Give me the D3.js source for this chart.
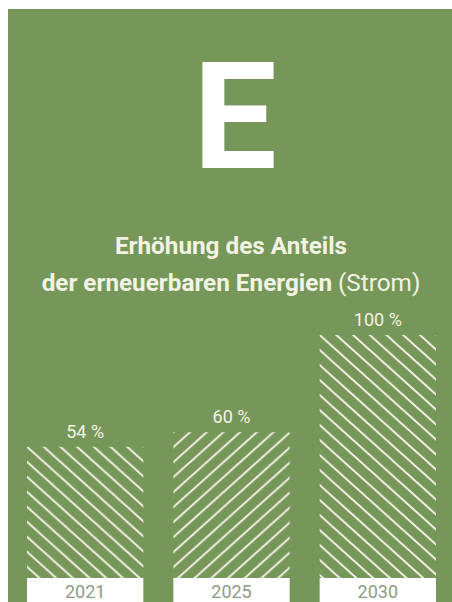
<!DOCTYPE html>
<html>
<head>
<meta charset="utf-8">
<script src="https://cdn.jsdelivr.net/npm/d3@7"></script>
<style>
  html, body { margin: 0; padding: 0; background: #ffffff; }
  svg { display: block; }
  text { font-family: Roboto, "Noto Sans", sans-serif; }
</style>
</head>
<body>
<svg id="chart" width="452" height="602"></svg>
<script>
// Share of renewable energies in electricity, by target year
const years = ["2021", "2025", "2030"];
const shares = [54, 60, 100];
const hatchDirections = ["down", "up", "down"];
const valueLabels = ["54 %", "60 %", "100 %"];
const titleLine1 = "Erhöhung des Anteils";
const titleLine2Bold = "der erneuerbaren Energien";
const titleLine2Light = " (Strom)";
const letter = "E";

const W = 452, H = 602;
const green = "#779659";
const cream = "#f1f4e2";

const svg = d3.select("#chart");

// panel
svg.append("rect")
  .attr("x", 8).attr("y", 9)
  .attr("width", W - 8).attr("height", H - 9)
  .attr("fill", green);

// big letter
svg.append("text")
  .attr("x", 235).attr("y", 168)
  .attr("text-anchor", "middle")
  .attr("font-size", 149)
  .attr("font-weight", 700)
  .attr("fill", "#ffffff")
  .text(letter);

// title
svg.append("text")
  .attr("x", 231).attr("y", 254)
  .attr("text-anchor", "middle")
  .attr("font-size", 24.3)
  .attr("font-weight", 700)
  .attr("fill", cream)
  .text(titleLine1);

const t2 = svg.append("text")
  .attr("x", 231).attr("y", 291)
  .attr("text-anchor", "middle")
  .attr("font-size", 24.3)
  .attr("fill", cream);
t2.append("tspan").attr("font-weight", 700).text(titleLine2Bold);
t2.append("tspan").attr("font-weight", 400).text(titleLine2Light);

// scales
const x = d3.scaleBand()
  .domain(years)
  .range([27, 436])
  .paddingInner(0.205)
  .paddingOuter(0);

const baseline = 578;
const y = d3.scaleLinear()
  .domain([0, 100])
  .range([baseline, 335]);

// diagonal hatch patterns, one per bar so the stripes start at the bar's corner
const defs = svg.append("defs");
const tw = 16.7, th = 15;
years.forEach((yr, i) => {
  const p = defs.append("pattern")
    .attr("id", "hatch" + i)
    .attr("patternUnits", "userSpaceOnUse")
    .attr("x", x(yr))
    .attr("y", y(shares[i]))
    .attr("width", tw)
    .attr("height", th);
  [-tw, 0, tw].forEach(dx => {
    const line = p.append("line")
      .attr("stroke", cream)
      .attr("stroke-width", 2);
    if (hatchDirections[i] === "down") {
      line.attr("x1", dx - tw).attr("y1", -th)
          .attr("x2", dx + 2 * tw).attr("y2", 2 * th);
    } else {
      line.attr("x1", dx - tw).attr("y1", 2 * th)
          .attr("x2", dx + 2 * tw).attr("y2", -th);
    }
  });
});

// bars
svg.selectAll("rect.bar")
  .data(years)
  .join("rect")
  .attr("class", "bar")
  .attr("x", d => x(d))
  .attr("y", (d, i) => y(shares[i]))
  .attr("width", x.bandwidth())
  .attr("height", (d, i) => baseline - y(shares[i]))
  .attr("fill", (d, i) => `url(#hatch${i})`);

// value labels
svg.selectAll("text.value")
  .data(years)
  .join("text")
  .attr("class", "value")
  .attr("x", d => x(d) + x.bandwidth() / 2)
  .attr("y", (d, i) => y(shares[i]) - 9)
  .attr("text-anchor", "middle")
  .attr("font-size", 18)
  .attr("fill", cream)
  .text((d, i) => valueLabels[i]);

// year boxes
svg.selectAll("rect.yearbox")
  .data(years)
  .join("rect")
  .attr("class", "yearbox")
  .attr("x", d => x(d))
  .attr("y", baseline)
  .attr("width", x.bandwidth())
  .attr("height", H - baseline)
  .attr("fill", "#ffffff");

svg.selectAll("text.year")
  .data(years)
  .join("text")
  .attr("class", "year")
  .attr("x", d => x(d) + x.bandwidth() / 2)
  .attr("y", 597.5)
  .attr("text-anchor", "middle")
  .attr("font-size", 18)
  .attr("fill", "#8d9b84")
  .text(d => d);
</script>
</body>
</html>
